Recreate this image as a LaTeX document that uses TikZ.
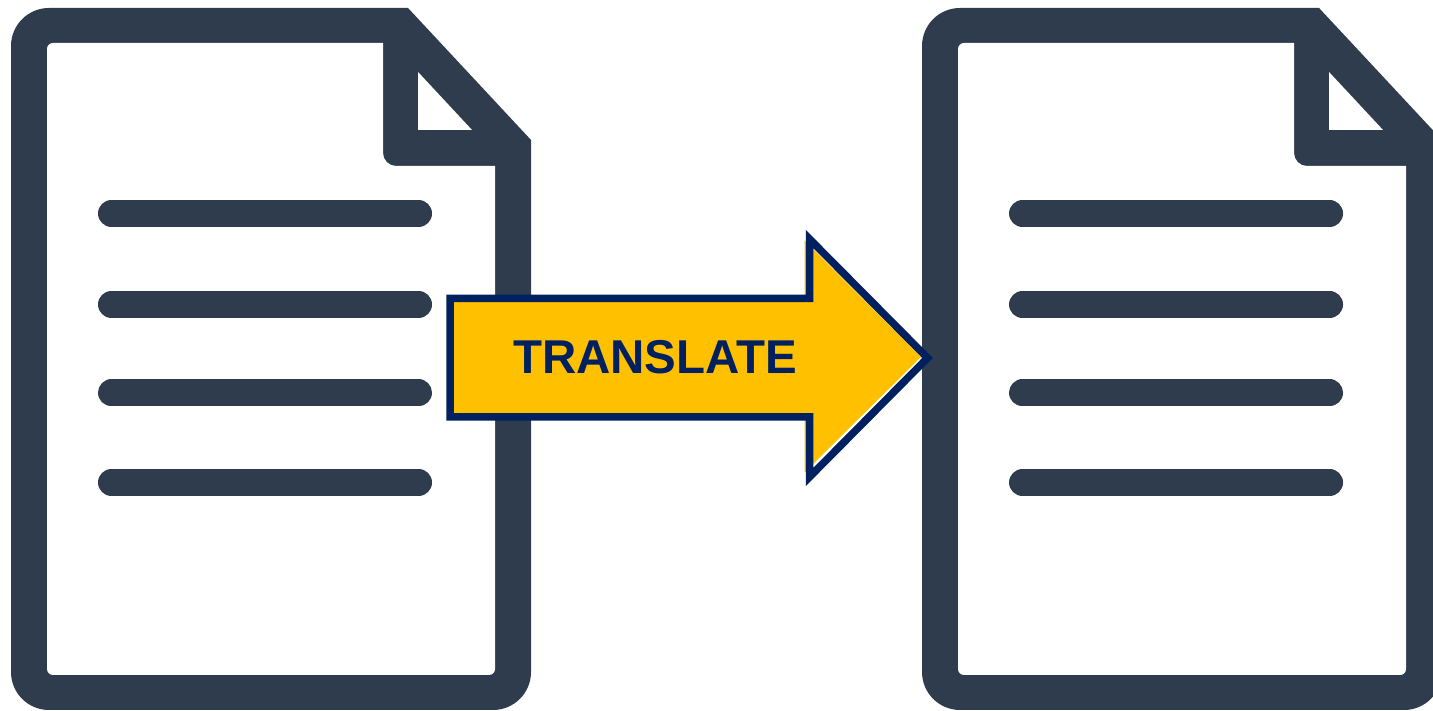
\documentclass[tikz,border=0pt]{standalone}
\usepackage{fontspec}
\setmainfont{Liberation Sans}
\definecolor{docdark}{HTML}{2E3C4D}
\definecolor{arrownavy}{HTML}{002060}
\definecolor{arrowgold}{HTML}{FFC000}
\tikzset{
  docline/.style={line width=0.27cm,line cap=round,docdark},
  docbody/.style={fill=docdark},
  docpaper/.style={fill=white}
}
\begin{document}
\begin{tikzpicture}
\clip (0,0) rectangle (14.33,7.11);
\begin{scope}
\path[docbody] (0.11,0.39)--(0.11,6.65) arc (180:90:0.38)--(4.08,7.03)--(5.31,5.71)--(5.31,0.39) arc (0:-90:0.38)--(0.49,0.01) arc (-90:-180:0.38)--cycle;
\path[docpaper] (0.47,0.42)--(0.47,6.62) arc (180:90:0.06)--(3.83,6.68)--(3.83,5.58) arc (180:270:0.13)--(4.95,5.45)--(4.95,0.42) arc (0:-90:0.06)--(0.53,0.36) arc (-90:-180:0.06)--cycle;
\path[docpaper] (4.18,6.39)--(4.72,5.81)--(4.18,5.81)--cycle;
\draw[docline] (1.115,4.975)--(4.185,4.975);
\draw[docline] (1.115,4.065)--(4.185,4.065);
\draw[docline] (1.115,3.18)--(4.185,3.18);
\draw[docline] (1.115,2.285)--(4.185,2.285);
\end{scope}

\begin{scope}[xshift=9.11cm]
\path[docbody] (0.11,0.39)--(0.11,6.65) arc (180:90:0.38)--(4.08,7.03)--(5.31,5.71)--(5.31,0.39) arc (0:-90:0.38)--(0.49,0.01) arc (-90:-180:0.38)--cycle;
\path[docpaper] (0.47,0.42)--(0.47,6.62) arc (180:90:0.06)--(3.83,6.68)--(3.83,5.58) arc (180:270:0.13)--(4.95,5.45)--(4.95,0.42) arc (0:-90:0.06)--(0.53,0.36) arc (-90:-180:0.06)--cycle;
\path[docpaper] (4.18,6.39)--(4.72,5.81)--(4.18,5.81)--cycle;
\draw[docline] (1.115,4.975)--(4.185,4.975);
\draw[docline] (1.115,4.065)--(4.185,4.065);
\draw[docline] (1.115,3.18)--(4.185,3.18);
\draw[docline] (1.115,2.285)--(4.185,2.285);
\end{scope}

\fill[arrowgold] (4.50,4.125)--(8.045,4.125)--(8.045,4.705)--(9.22,3.53)--(9.20,3.53)--(8.045,2.385)--(8.045,2.94)--(4.50,2.94)--cycle;
\draw[arrownavy,line width=0.075cm] (4.50,4.125)--(8.095,4.125)--(8.095,4.72)--(9.275,3.53)--(8.095,2.34)--(8.095,2.94)--(4.50,2.94)--cycle;
\node[text=arrownavy,font=\fontsize{13.5}{16}\selectfont\bfseries] (translate) at (6.55,3.54) {TRANSLATE};
\end{tikzpicture}
\end{document}
